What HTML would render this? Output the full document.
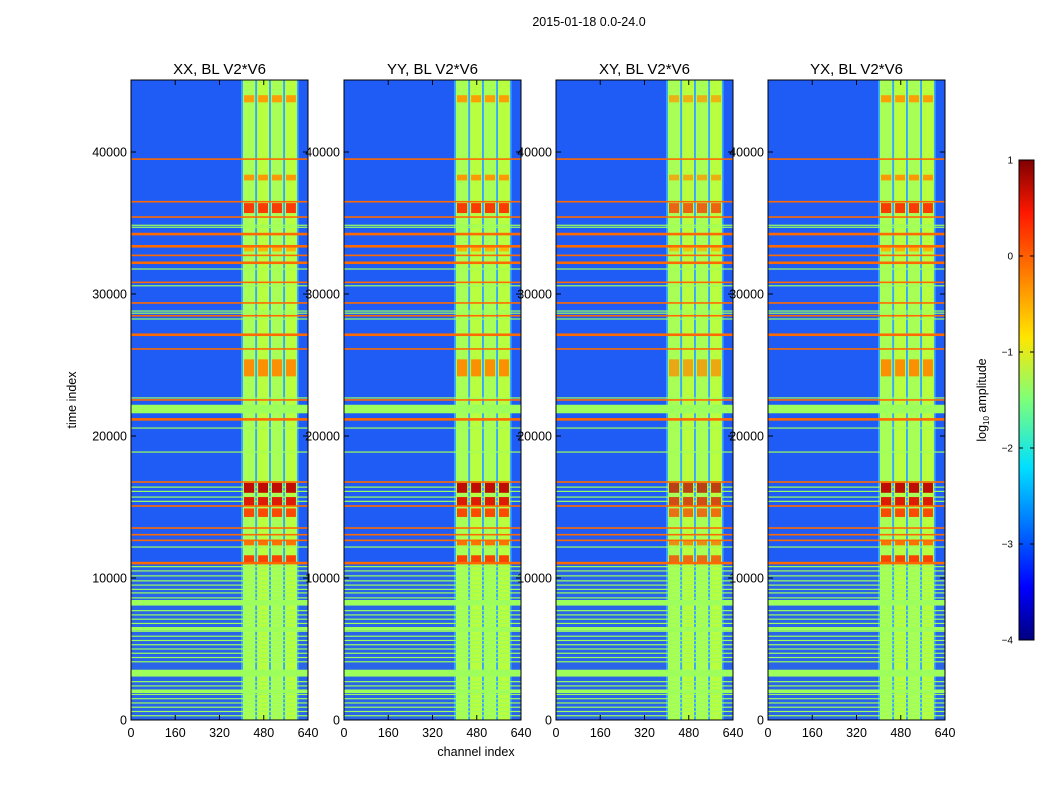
<!DOCTYPE html>
<html><head><meta charset="utf-8">
<style>
html,body{margin:0;padding:0;background:#fff;}
svg{display:block;font-family:"Liberation Sans",sans-serif;}
</style></head>
<body>
<svg id="fig" width="1050" height="800" viewBox="0 0 1050 800">
<defs>
<linearGradient id="jet" x1="0" y1="1" x2="0" y2="0">
<stop offset="0" stop-color="#00007f"/><stop offset="0.11" stop-color="#0000ff"/>
<stop offset="0.36" stop-color="#00e0ff"/><stop offset="0.5" stop-color="#7dff7a"/>
<stop offset="0.63" stop-color="#ffe600"/><stop offset="0.89" stop-color="#ff1800"/>
<stop offset="1" stop-color="#7f0000"/></linearGradient>
</defs>
<text x="589" y="26" font-size="12.5" text-anchor="middle">2015-01-18 0.0-24.0</text>
<text transform="translate(76,400) rotate(-90)" font-size="12.5" text-anchor="middle">time index</text>
<text x="476" y="756" font-size="12.5" text-anchor="middle">channel index</text>
<g id="panels"></g>
<g id="cbar">
<rect x="1019" y="160" width="15" height="480" fill="url(#jet)" stroke="#000" stroke-width="1"/>
</g>
<text transform="translate(986,400) rotate(-90)" font-size="12.5" text-anchor="middle">log<tspan font-size="8" dy="3">10</tspan><tspan dy="-3"> amplitude</tspan></text>
</svg>
<script>
const panelTitles=["XX, BL V2*V6","YY, BL V2*V6","XY, BL V2*V6","YX, BL V2*V6"];
const panelLeft=[131,344,556,768];
const xTicks=[0,160,320,480,640];
const yTicks=[0,10000,20000,30000,40000];
const cbTicks=[1,0,-1,-2,-3,-4];
const stripeStart=[405,456,506,557];
const stripeEnd=[449,499,550,600];
const orangeLines=[39500,36500,35420,34220,33360,32720,32200,30820,29370,28470,27130,26130,22540,21170,16760,15070,13520,13050,12650,11050];
const orangeWidth=[1,1,1,2,2,1,2,1,1,1,2,1,1,2,1,1,1,1,1,2];
const greenLines=[34840,34700,31760,30580,28800,28650,28240,22680,20560,18870,16400,16100,15700,15400,12180,10800,10500,10150,9800,9500,9200,8950,8600,8300,8100,7700,7400,7100,6800,6500,6250,5900,5600,5300,5000,4700,4400,4100,3500,3300,3100,2700,2400,2100,1800,1500,1200,900,600,300];
const greenBands=[[21600,22200],[8100,8450],[3100,3520],[6300,6550],[1900,2150]];
const blockStart=[43500,38000,35700,33000,24200,16000,15100,14300,12300,11000];
const blockEnd=[44000,38400,36400,33400,25400,16700,15700,14900,12700,11600];
const blockColor=["#ff9a00","#ff9400","#ff3000","#ffb000","#ff8a00","#c00000","#e01000","#ff4000","#ff6a00","#ff3800"];
const yScale=t=>720-t*0.0142;
const NS="http://www.w3.org/2000/svg";
const root=document.getElementById("panels");
function mk(tag,attrs,parent){const e=document.createElementNS(NS,tag);for(const k in attrs)e.setAttribute(k,attrs[k]);parent.appendChild(e);return e;}
panelLeft.forEach((x0,pi)=>{
  const xs=c=>x0+c*177/640;
  const g=mk("g",{},root);
  
  
  mk("rect",{x:x0,y:80,width:177,height:640,fill:"#1f5cf6"},g);
  mk("rect",{x:x0,y:yScale(10900),width:177,height:yScale(0)-yScale(10900),fill:"#2a64e8"},g);
  mk("rect",{x:xs(398),y:80,width:xs(606)-xs(398),height:640,fill:"#38a8ff"},g);
  stripeStart.forEach((s,i)=>{
    const r=mk("rect",{x:xs(s),y:80,width:xs(stripeEnd[i])-xs(s),height:640,fill:(i%2?"#b8ff40":"#a8ff55")},g);
    
    
  });
  greenBands.forEach(b=>{mk("rect",{x:x0,y:yScale(b[1]),width:177,height:yScale(b[0])-yScale(b[1]),fill:"#9cff5c"},g);});
  greenLines.forEach(t=>{
    const l=mk("rect",{x:x0,y:yScale(t)-0.6,width:177,height:1.2,fill:"#9cff5c"},g);
    
    
  });
  blockStart.forEach((s,i)=>{
    stripeStart.forEach((c,j)=>{
      const b=mk("rect",{x:xs(c)+1,y:yScale(blockEnd[i]),width:xs(stripeEnd[j])-xs(c)-2,height:yScale(s)-yScale(blockEnd[i]),fill:blockColor[i],opacity:(pi===2?0.75:0.95)},g);
      
      
    });
  });
  orangeLines.forEach((t,i)=>{
    const l=mk("rect",{x:x0,y:yScale(t)-orangeWidth[i]/2-0.3,width:177,height:orangeWidth[i]+0.6,fill:"#ff6a00"},g);
    
    
  });
  mk("rect",{x:x0,y:80,width:177,height:640,fill:"none",stroke:"#000","stroke-width":1},g);
  const tt=mk("text",{x:x0+88.5,y:74,"font-size":15,"text-anchor":"middle"},g);
  tt.textContent=panelTitles[pi];
  
  
  xTicks.forEach(v=>{
    const x=xs(v);
    mk("line",{x1:x,x2:x,y1:720,y2:715,stroke:"#000"},g);
    mk("line",{x1:x,x2:x,y1:80,y2:85,stroke:"#000"},g);
    const t=mk("text",{x:x,y:737,"font-size":12.5,"text-anchor":"middle"},g);
    t.textContent=v;
    
    
  });
  yTicks.forEach(v=>{
    const y=yScale(v);
    mk("line",{x1:x0,x2:x0+5,y1:y,y2:y,stroke:"#000"},g);
    mk("line",{x1:x0+177,x2:x0+172,y1:y,y2:y,stroke:"#000"},g);
    const t=mk("text",{x:x0-4,y:y+4.5,"font-size":12.5,"text-anchor":"end"},g);
    t.textContent=v;
    
    
  });
});
const cb=document.getElementById("cbar");
cbTicks.forEach(v=>{
  const y=160+(1-v)*96;
  mk("line",{x1:1019,x2:1023,y1:y,y2:y,stroke:"#000"},cb);
  mk("line",{x1:1034,x2:1030,y1:y,y2:y,stroke:"#000"},cb);
  const t=mk("text",{x:1013,y:y+3.5,"font-size":10,"text-anchor":"end"},cb);
  t.textContent=v<0?"\u2212"+(-v):String(v);
  
  
});
</script>
</body></html>
